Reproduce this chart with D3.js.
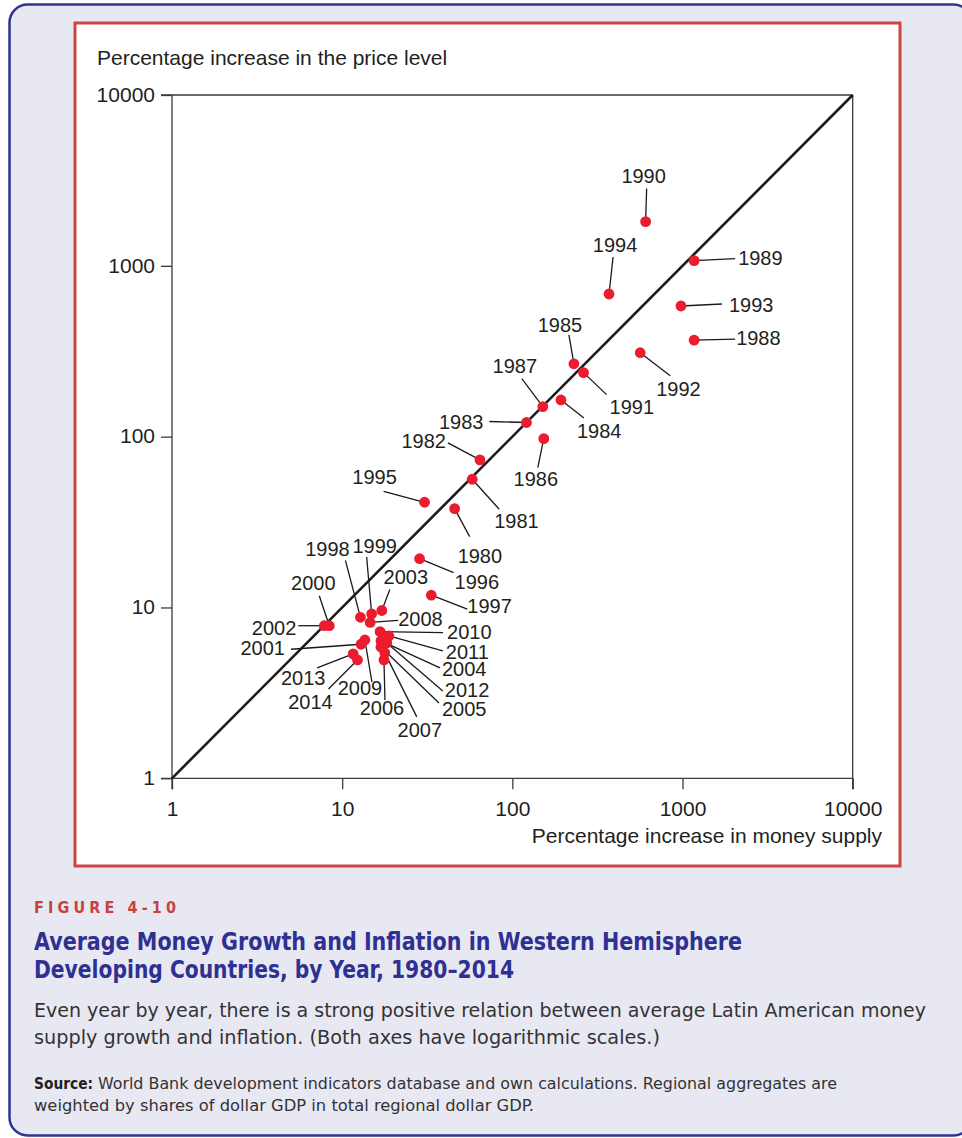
<!DOCTYPE html>
<html><head><meta charset="utf-8">
<script src="https://cdn.jsdelivr.net/npm/d3@7"></script>
<style>html,body{margin:0;padding:0;background:#fff;} svg{display:block;}</style>
</head><body>
<svg id="chart" width="962" height="1138"></svg>
<script>
// ---------------- data ----------------
const years = [1980,1981,1982,1983,1984,1985,1986,1987,1988,1989,1990,1991,1992,1993,1994,1995,1996,1997,
  1998,1999,2000,2001,2002,2003,2004,2005,2006,2007,2008,2009,2010,2011,2012,2013,2014];
const moneyGrowth = [45.8,58.1,64.5,121,193,230,153,151,1170,1170,607,262,564,979,370,30.5,28.5,33.4,
  12.8,14.9,8.4,12.9,7.85,17.1,16.9,16.9,17.6,17.8,14.6,13.6,16.7,18.8,18.3,11.6,12.3];
const inflation = [37.9,56.3,73.1,121,164,267,97.3,150,367,1072,1815,237,310,582,684,41.3,19.3,11.8,
  8.76,9.16,7.82,6.09,7.82,9.6,6.37,5.87,4.93,5.42,8.17,6.45,7.22,6.81,6.2,5.35,4.93];
const xTickValues = [1,10,100,1000,10000];
const yTickValues = [1,10,100,1000,10000];
const xAxisTitle = "Percentage increase in money supply";
const yAxisTitle = "Percentage increase in the price level";
const figureLabel = "FIGURE 4-10";
const titleLines = ["Average Money Growth and Inflation in Western Hemisphere",
  "Developing Countries, by Year, 1980\u20132014"];
const bodyLines = ["Even year by year, there is a strong positive relation between average Latin American money",
  "supply growth and inflation. (Both axes have logarithmic scales.)"];
const sourceLead = "Source:";
const sourceLines = ["World Bank development indicators database and own calculations. Regional aggregates are",
  "weighted by shares of dollar GDP in total regional dollar GDP."];

// label placement (pixel offsets from each point): leader end (lx,ly), text (tx,ty), anchor
const labelLayout = {
  1980:[15,28,3,54,"start"], 1981:[27,30,22,49,"start"], 1982:[-32,-17,-34,-12,"end"],
  1983:[-37,-1,-43,6,"end"], 1984:[23,18,16,38,"start"], 1985:[-5,-29,-14,-32,"middle"],
  1986:[-6,29,-8,47,"middle"], 1987:[-21,-28,-28,-34,"middle"], 1988:[41,-1,42,5,"start"],
  1989:[41,-2,44,4,"start"], 1990:[1,-33,-2,-39,"middle"], 1991:[23,22,26,41,"start"],
  1992:[30,23,16,43,"start"], 1993:[41,-2,48,6,"start"], 1994:[4,-37,6,-42,"middle"],
  1995:[-41,-11,-50,-18,"middle"], 1996:[34,14,35,30,"start"], 1997:[36,14,36,18,"start"],
  1998:[-15,-57,-33,-61,"middle"], 1999:[-5,-57,3,-61,"middle"], 2000:[-10,-30,-16,-36,"middle"],
  2001:[-70,5,-76,11,"end"], 2002:[-26,0,-28,9,"end"], 2003:[8,-21,24,-27,"middle"],
  2004:[59,27,61,35,"start"], 2005:[58,56,61,69,"start"], 2006:[1,40,-2,55,"middle"],
  2007:[32,64,35,84,"middle"], 2008:[28,-2,28,4,"start"], 2009:[7,42,-5,55,"middle"],
  2010:[63,1,67,7,"start"], 2011:[54,15,57,23,"start"], 2012:[56,48,58,54,"start"],
  2013:[-36,14,-50,31,"middle"], 2014:[-29,29,-47,49,"middle"]
};

// ---------------- drawing ----------------
const svg = d3.select("#chart");
const chartFont = "'Liberation Sans', Arial, Helvetica, sans-serif";
const capFont = "'Liberation Sans Narrow','DejaVu Sans Condensed','Open Sans',sans-serif";

// outer panel
svg.append("rect").attr("x",9.5).attr("y",4.5).attr("width",962).attr("height",1131).attr("rx",18)
  .attr("fill","#e8e8f3").attr("stroke","#2d3592").attr("stroke-width",2.5);
// inner frame
svg.append("rect").attr("x",75).attr("y",23).attr("width",825).attr("height",843)
  .attr("fill","#fff").attr("stroke","#cc4540").attr("stroke-width",3);

const x = d3.scaleLog().domain([1,10000]).range([172,852.7]);
const y = d3.scaleLog().domain([1,10000]).range([778.3,95]);
const tickLen = 11;
const axisColor = "#3a3a3a";

const g = svg.append("g");
// plot box lines
g.append("line").attr("x1",x(1)-tickLen).attr("x2",x(10000)).attr("y1",y(1)).attr("y2",y(1))
  .attr("stroke",axisColor).attr("stroke-width",1.3);
g.append("line").attr("x1",x(1)).attr("x2",x(1)).attr("y1",y(10000)).attr("y2",y(1)+tickLen)
  .attr("stroke",axisColor).attr("stroke-width",1.3);
g.append("line").attr("x1",x(1)-tickLen).attr("x2",x(10000)).attr("y1",y(10000)).attr("y2",y(10000))
  .attr("stroke",axisColor).attr("stroke-width",1.3);
g.append("line").attr("x1",x(10000)).attr("x2",x(10000)).attr("y1",y(10000)).attr("y2",y(1)+tickLen)
  .attr("stroke",axisColor).attr("stroke-width",1.3);

// axes via d3 axis (ticks + labels)
const xAxis = d3.axisBottom(x).tickValues(xTickValues).tickFormat(d3.format("d")).tickSize(tickLen).tickPadding(12);
const yAxis = d3.axisLeft(y).tickValues(yTickValues).tickFormat(d3.format("d")).tickSize(tickLen).tickPadding(6);
const gx = g.append("g").attr("transform",`translate(0,${y(1)})`).call(xAxis);
const gy = g.append("g").attr("transform",`translate(${x(1)},0)`).call(yAxis);
[gx,gy].forEach(a=>{
  a.select(".domain").remove();
  a.selectAll(".tick line").attr("stroke",axisColor).attr("stroke-width",1.3);
  a.selectAll(".tick text").attr("fill","#231f20").style("font-family",chartFont).style("font-size","21px");
});
gx.selectAll(".tick text").attr("dy","0.71em");
gy.selectAll(".tick text").attr("dy","0.3em");

// axis titles
g.append("text").attr("x",97).attr("y",65).text(yAxisTitle)
  .style("font-family",chartFont).style("font-size","21px").attr("fill","#231f20");
g.append("text").attr("x",882).attr("y",843).attr("text-anchor","end").text(xAxisTitle)
  .style("font-family",chartFont).style("font-size","21px").attr("fill","#231f20");

// 45-degree line
g.append("line").attr("x1",x(1)).attr("y1",y(1)).attr("x2",x(10000)).attr("y2",y(10000))
  .attr("stroke","#1a1a1a").attr("stroke-width",2.6);

const pts = years.map((yr,i)=>({year:yr, m:moneyGrowth[i], p:inflation[i], L:labelLayout[yr]}));

// leader lines
g.append("g").selectAll("line").data(pts).join("line")
  .attr("x1",d=>x(d.m)).attr("y1",d=>y(d.p))
  .attr("x2",d=>x(d.m)+d.L[0]).attr("y2",d=>y(d.p)+d.L[1])
  .attr("stroke","#1a1a1a").attr("stroke-width",1.3);

// dots
g.append("g").selectAll("circle").data(pts).join("circle")
  .attr("cx",d=>x(d.m)).attr("cy",d=>y(d.p)).attr("r",5.4).attr("fill","#ea1c2d");

// year labels
g.append("g").selectAll("text").data(pts).join("text")
  .attr("x",d=>x(d.m)+d.L[2]).attr("y",d=>y(d.p)+d.L[3]).attr("text-anchor",d=>d.L[4])
  .text(d=>d.year).style("font-family",chartFont).style("font-size","20px").attr("fill","#231f20");

// ---------------- caption ----------------
const cap = svg.append("g");
cap.append("text").attr("x",34).attr("y",913).text(figureLabel)
  .attr("textLength",142).attr("lengthAdjust","spacing")
  .style("font-family",capFont).style("font-size","16px").style("font-weight","bold").attr("fill","#c8423b");
const titleW = [708,480];
titleLines.forEach((t,i)=>cap.append("text").attr("x",34).attr("y",950+i*28).text(t)
  .attr("textLength",titleW[i]).attr("lengthAdjust","spacingAndGlyphs")
  .style("font-family",capFont).style("font-size","24px").style("font-weight","bold").attr("fill","#2e3192"));
const bodyW = [892,626];
bodyLines.forEach((t,i)=>cap.append("text").attr("x",34).attr("y",1017+i*27).text(t)
  .attr("textLength",bodyW[i]).attr("lengthAdjust","spacingAndGlyphs")
  .style("font-family",capFont).style("font-size","19px").attr("fill","#333"));
cap.append("text").attr("x",34).attr("y",1089).text(sourceLead)
  .attr("textLength",59).attr("lengthAdjust","spacingAndGlyphs")
  .style("font-family",capFont).style("font-size","15px").style("font-weight","bold").attr("fill","#231f20");
cap.append("text").attr("x",98).attr("y",1089).text(sourceLines[0])
  .attr("textLength",739).attr("lengthAdjust","spacingAndGlyphs")
  .style("font-family",capFont).style("font-size","15px").attr("fill","#333");
cap.append("text").attr("x",34).attr("y",1111).text(sourceLines[1])
  .attr("textLength",500).attr("lengthAdjust","spacingAndGlyphs")
  .style("font-family",capFont).style("font-size","15px").attr("fill","#333");
</script>
</body></html>
